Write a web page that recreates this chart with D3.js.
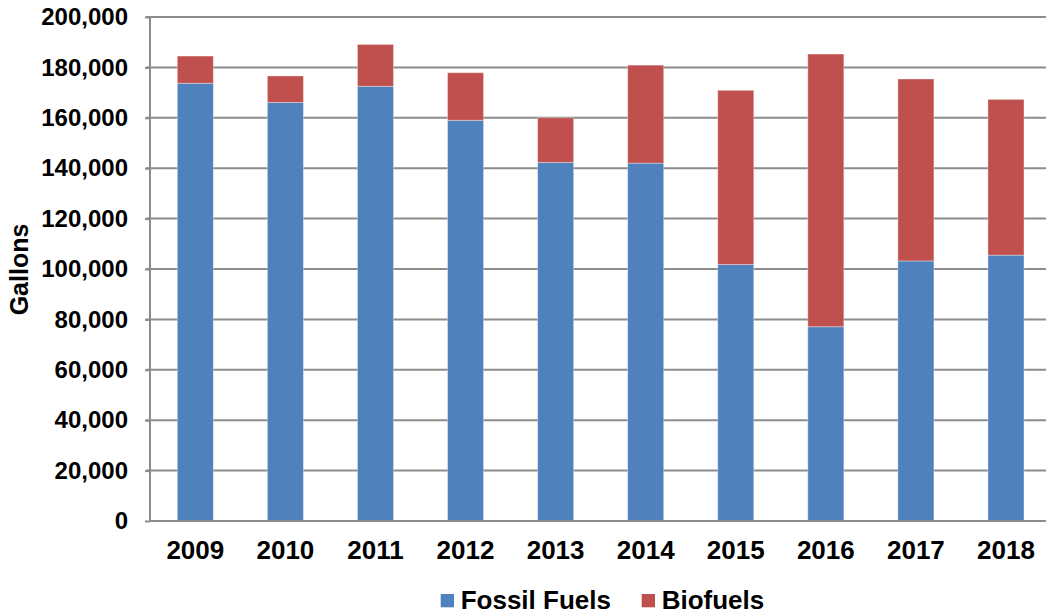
<!DOCTYPE html>
<html><head><meta charset="utf-8">
<script src="https://cdn.jsdelivr.net/npm/d3@7"></script>
<style>html,body{margin:0;padding:0;background:#fff;}svg{display:block;}</style>
</head><body>
<svg id="c" width="1046" height="616"></svg>
<script>
const years = ["2009","2010","2011","2012","2013","2014","2015","2016","2017","2018"];
const fossil = [173700,166100,172500,159000,142300,142000,101800,77100,103200,105500];
const biofuels = [10800,10500,16600,18900,17700,38900,69100,108200,72200,61800];
const yTicks = [0,20000,40000,60000,80000,100000,120000,140000,160000,180000,200000];
const seriesNames = ["Fossil Fuels","Biofuels"];
const colors = ["#4F81BD","#C0504D"];

const svg = d3.select("#c");
const font = "'Liberation Sans', Arial, sans-serif";
const x = d3.scaleBand().domain(years).range([150.3, 1051]).paddingInner(0.6).paddingOuter(0.3);
const y = d3.scaleLinear().domain([0,200000]).range([521,17]);

// gridlines
svg.append("g").selectAll("line").data(yTicks.filter(d=>d>0)).join("line")
  .attr("x1",146).attr("x2",1046).attr("y1",d=>y(d)).attr("y2",d=>y(d))
  .attr("stroke","#8c8c8c").attr("stroke-width",2);

// bars
const rows = years.map((yr,i)=>({year:yr, fossil:fossil[i], bio:biofuels[i]}));
const stack = d3.stack().keys(["fossil","bio"])(rows);
svg.append("g").selectAll("g").data(stack).join("g")
  .attr("fill",(d,i)=>colors[i])
  .selectAll("rect").data(d=>d).join("rect")
  .attr("x",d=>x(d.data.year)).attr("width",x.bandwidth())
  .attr("y",d=>y(d[1])).attr("height",d=>y(d[0])-y(d[1]))
  .attr("stroke","#ffffff").attr("stroke-opacity",0.35).attr("stroke-width",1);

// y axis
const yAxis = svg.append("g").attr("transform","translate(150,0)")
  .call(d3.axisLeft(y).tickValues(yTicks).tickSize(5).tickPadding(17).tickFormat(d3.format(",")));
yAxis.select(".domain").attr("stroke","#8c8c8c").attr("stroke-width",2).attr("d","M0,17V521");
yAxis.selectAll(".tick line").attr("stroke","#8c8c8c").attr("stroke-width",2);
yAxis.selectAll(".tick text").attr("font-family",font).attr("font-size",24).attr("font-weight","bold").attr("fill","#000");

// x axis
const xAxis = svg.append("g").attr("transform","translate(0,521)")
  .call(d3.axisBottom(x).tickSize(0).tickPadding(20));
xAxis.select(".domain").attr("stroke","#8c8c8c").attr("stroke-width",2).attr("d","M149,0H1046");
xAxis.selectAll(".tick text").attr("font-family",font).attr("font-size",26).attr("font-weight","bold").attr("fill","#000");

// y title
svg.append("text").attr("transform","translate(28,269.5) rotate(-90)")
  .attr("text-anchor","middle").attr("font-family",font).attr("font-size",25).attr("font-weight","bold")
  .text("Gallons");

// legend
const legX = [440.7, 641.7];
const leg = svg.append("g");
seriesNames.forEach((n,i)=>{
  leg.append("rect").attr("x",legX[i]).attr("y",594).attr("width",13.3).attr("height",13.3).attr("fill",colors[i]);
  leg.append("text").attr("x",legX[i]+20).attr("y",609.3).attr("font-family",font).attr("font-size",26)
    .attr("font-weight","bold").text(n);
});
</script>
</body></html>
